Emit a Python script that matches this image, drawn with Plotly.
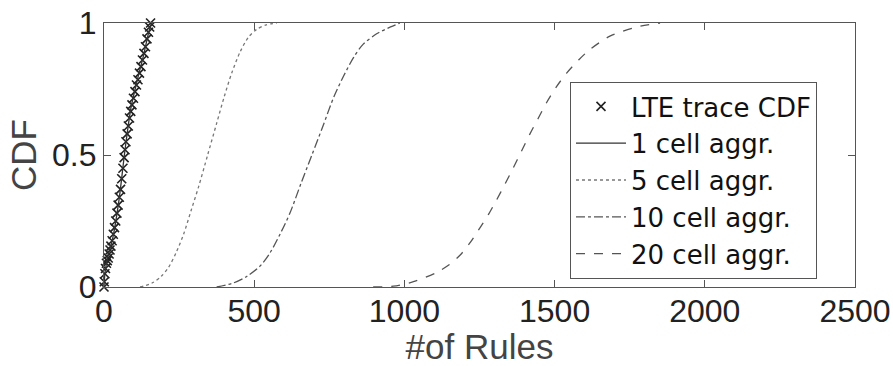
import plotly.graph_objects as go

# LTE trace CDF (markers)
lte_x = [0, 1, 3, 5, 8, 11, 14, 17, 20, 23, 27, 31, 35, 39, 43, 47, 51, 55, 59, 63,
         67, 70, 73, 77, 81, 85, 89, 93, 98, 103, 108, 113, 118, 123, 128, 133, 138,
         143, 148, 152, 155]
lte_y = [0, 0.02, 0.05, 0.07, 0.09, 0.10, 0.11, 0.125, 0.14, 0.155, 0.175, 0.2,
         0.225, 0.25, 0.28, 0.31, 0.34, 0.37, 0.41, 0.45, 0.49, 0.52, 0.55, 0.58,
         0.61, 0.64, 0.665, 0.69, 0.715, 0.74, 0.765, 0.785, 0.81, 0.835, 0.86,
         0.885, 0.91, 0.94, 0.965, 0.985, 1.0]

# 1 cell aggregation
one_x = [0, 3, 10, 30, 50, 70, 90, 110, 130, 150, 158]
one_y = [0, 0.05, 0.1, 0.19, 0.33, 0.52, 0.68, 0.78, 0.87, 0.97, 1.0]

# 5 cell aggregation
five_x = [120, 160, 190, 215, 240, 265, 290, 315, 345, 375, 400, 425, 453, 480, 507, 540, 575]
five_y = [0, 0.015, 0.04, 0.075, 0.13, 0.2, 0.29, 0.38, 0.5, 0.62, 0.72, 0.81, 0.89,
          0.945, 0.975, 0.993, 1.0]

# 10 cell aggregation
ten_x = [375, 430, 475, 520, 553, 586, 619, 655, 692, 729, 765, 798, 831, 863, 909, 954, 985]
ten_y = [0, 0.015, 0.04, 0.08, 0.13, 0.2, 0.28, 0.39, 0.5, 0.61, 0.72, 0.8, 0.87,
         0.92, 0.96, 0.985, 1.0]

# 20 cell aggregation
twenty_x = [896, 963, 1030, 1107, 1150, 1185, 1220, 1252, 1280, 1307, 1335, 1362, 1390,
            1418, 1446, 1474, 1507, 1540, 1580, 1618, 1684, 1773, 1851]
twenty_y = [0, 0.003, 0.02, 0.055, 0.085, 0.12, 0.17, 0.225, 0.275, 0.33, 0.39, 0.45,
            0.515, 0.58, 0.64, 0.7, 0.76, 0.81, 0.86, 0.9, 0.95, 0.985, 1.0]

x_ticks = [0, 500, 1000, 1500, 2000, 2500]
y_ticks = [0, 0.5, 1]
y_tick_text = ["0", "0.5", "1"]

FONT = "Liberation Sans, Arial, sans-serif"
LEG_FONT = "DejaVu Sans, Liberation Sans, sans-serif"
AX = "#555555"

fig = go.Figure()
fig.add_trace(go.Scatter(
    x=lte_x, y=lte_y, mode="markers", name="LTE trace CDF",
    marker=dict(symbol="x-thin", size=9, color="#222222",
                line=dict(width=1.6, color="#222222")),
    cliponaxis=False))
fig.add_trace(go.Scatter(
    x=one_x, y=one_y, mode="lines", name="1 cell aggr.",
    line=dict(color="#333333", width=1.3, shape="spline", smoothing=0.8)))
fig.add_trace(go.Scatter(
    x=five_x, y=five_y, mode="lines", name="5 cell aggr.",
    line=dict(color="#777777", width=1.3, dash="dot", shape="spline", smoothing=0.8)))
fig.add_trace(go.Scatter(
    x=ten_x, y=ten_y, mode="lines", name="10 cell aggr.",
    line=dict(color="#555555", width=1.3, dash="dashdot", shape="spline", smoothing=0.8)))
fig.add_trace(go.Scatter(
    x=twenty_x, y=twenty_y, mode="lines", name="20 cell aggr.",
    line=dict(color="#555555", width=1.3, dash="dash", shape="spline", smoothing=0.8)))

fig.update_layout(
    width=893, height=366,
    margin=dict(l=104, r=38, t=23, b=79),
    paper_bgcolor="white", plot_bgcolor="white",
    font=dict(family=FONT, color="#222222"),
    showlegend=True,
    legend=dict(
        x=0.6205, y=0.7765, xanchor="left", yanchor="top",
        bordercolor=AX, borderwidth=1, bgcolor="white",
        font=dict(size=26, family=LEG_FONT, color="#111111"),
        itemwidth=50,
    ),
)
fig.update_xaxes(
    range=[0, 2500], tickvals=x_ticks, ticktext=[str(v) for v in x_ticks],
    showgrid=False, zeroline=False, automargin=False,
    showline=True, linecolor=AX, linewidth=1.3, mirror="ticks",
    ticks="inside", ticklen=7, tickcolor=AX, tickwidth=1.3,
    ticklabelstandoff=-5,
    tickfont=dict(size=32, family=FONT, color="#222222"),
    title=dict(text="#of Rules", font=dict(size=35, family=FONT, color="#444444"),
               standoff=0),
)
fig.update_yaxes(
    range=[0, 1], tickvals=y_ticks, ticktext=y_tick_text,
    showgrid=False, zeroline=False, automargin=False,
    showline=True, linecolor=AX, linewidth=1.3, mirror="ticks",
    ticks="inside", ticklen=7, tickcolor=AX, tickwidth=1.3,
    tickfont=dict(size=32, family=FONT, color="#222222"),
    title=dict(text="CDF", font=dict(size=35, family=FONT, color="#444444"),
               standoff=4),
)

fig.write_html("out.html", config={"displayModeBar": False},
               post_script="document.body.style.margin='0';document.body.style.overflow='hidden';")
